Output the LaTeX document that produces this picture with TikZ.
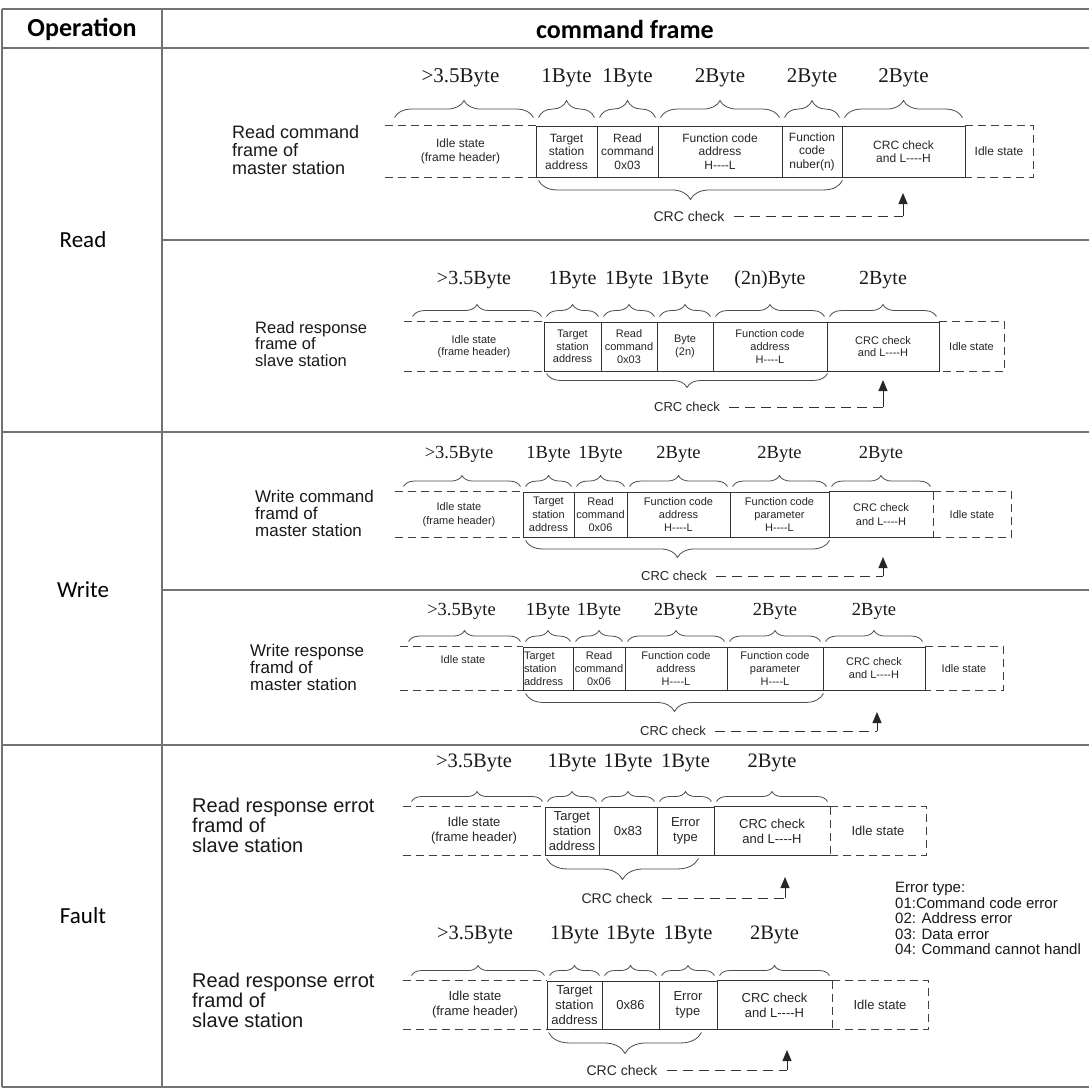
\documentclass[tikz,border=0pt]{standalone}
\usepackage{fontspec}
\setmainfont{Liberation Sans}
\newfontfamily\tnr{Liberation Serif}
\newfontfamily\clb{Carlito}
\usetikzlibrary{decorations.pathreplacing,arrows.meta,calc}
\newcommand\fsz[2]{\fontsize{#1}{#2}\selectfont}
\newcommand\HL{H-{}-{}-{}-L}
\newcommand\LH{L-{}-{}-{}-H}
\newcommand\cel[7][]{\node[cell,#1,minimum width={#4pt-#3pt},minimum height={#6pt-#5pt}] (#2) at ({(#3+#4)/2},{(#5+#6)/2}) {#7};}
\begin{document}
\begin{tikzpicture}[x=1pt,y=-1pt,
 tline/.style={draw=black!55, line width=1.8pt},
 cell/.style={draw=black!80, line width=0.9pt, inner sep=0pt, align=center, text=black!85},
 sol/.style={draw=black!80, line width=0.9pt},
 dsh/.style={draw=black!75, line width=1pt, dash pattern=on 8pt off 5pt},
 cdsh/.style={draw=black!80, line width=1pt, dash pattern=on 10pt off 6pt},
 brc/.style={draw=black!70, line width=0.8pt, decorate, decoration={brace, amplitude=#1}},
 byte/.style={font=\tnr\fsz{#1}{#1}, text=black!90, inner sep=0pt},
 lbl/.style={font=\fsz{#1}{#1}, align=left, anchor=west, inner sep=0pt, text=black!90},
 arr/.style={draw=black!85, line width=1pt, -{Triangle[width=9pt,length=11pt]}},
 crct/.style={font=\fsz{#1}{#1}, inner sep=1pt, text=black!85},
 hdr/.style={font=\clb\bfseries\fsz{26}{26}},
 sec/.style={font=\clb\fsz{23}{23}},
]
\fill[white] (0,0) rectangle (1089,1088);
\useasboundingbox (0,0) rectangle (1089,1088);
% table
\draw[tline] (2,9) -- (1089,9);
\draw[tline] (2,48) -- (1089,48);
\draw[tline] (2,432) -- (1089,432);
\draw[tline] (2,745) -- (1089,745);
\draw[tline] (2,1087) -- (1089,1087);
\draw[tline] (2,9) -- (2,1087);
\draw[tline] (162,9) -- (162,1087);
\draw[tline] (162,240) -- (1089,240);
\draw[tline] (162,590) -- (1089,590);
\node[hdr] (op) at (82,29) {Operation};
\node[hdr] (cf) at (625,29) {command frame};
\node[sec] (sr) at (83,240) {Read};
\node[sec] (sw) at (83,590) {Write};
\node[sec] (sf) at (83,916) {Fault};

% ---------- frame 1
\begin{scope}[cell/.append style={font=\fsz{12}{13.5}}]
\node[lbl=18] (L1) at (232,150) {Read command\\frame of\\master station};
\cel[draw=none]{h1}{385}{536}{126}{177}{Idle state\\(frame header)}
\draw[dsh] (h1.north west) -- (h1.north east);
\draw[dsh] (h1.south west) -- (h1.south east);
\cel{a1}{536}{597}{126}{177}{Target\\station\\address}
\cel{b1}{597}{658}{126}{177}{Read\\command\\0x03}
\cel{c1}{658}{782}{126}{177}{Function code\\address\\\HL}
\cel{d1}{782}{842}{126}{177}{Function\\code\\nuber(n)}
\cel{e1}{842}{965}{126}{177}{CRC check\\and \LH}
\cel[draw=none]{i1}{965}{1033}{126}{177}{Idle state}
\draw[dsh] (i1.north west) -- (i1.north east) -- (i1.south east) -- (i1.south west);
\foreach \n in {a1,b1,c1,d1,e1}{\draw[brc=17pt] ([xshift=3pt,yshift=8pt]\n.north west) -- ([xshift=-3pt,yshift=8pt]\n.north east);}
\draw[brc=17pt] ([xshift=10pt,yshift=8pt]h1.north west) -- ([xshift=-3pt,yshift=8pt]h1.north east);
\node[byte=21] (y1h) at ([yshift=48pt]h1.north) {>3.5Byte};
\node[byte=21] (y1a) at ([yshift=48pt]a1.north) {1Byte};
\node[byte=21] (y1b) at ([yshift=48pt]b1.north) {1Byte};
\node[byte=21] (y1c) at ([yshift=48pt]c1.north) {2Byte};
\node[byte=21] (y1d) at ([yshift=48pt]d1.north) {2Byte};
\node[byte=21] (y1e) at ([yshift=48pt]e1.north) {2Byte};
\draw[brc=19pt] ([yshift=-3pt]d1.south east) -- ([xshift=3pt,yshift=-3pt]a1.south west);
\node[crct=14] (k1) at (689,216) {CRC check};
\coordinate (t1) at (903,193);
\draw[cdsh] ([xshift=8pt]k1.east) -- (k1.east -| t1) coordinate (m1);
\draw[arr] (m1) -- (t1);
\end{scope}

% ---------- frame 2
\begin{scope}[cell/.append style={font=\fsz{11}{12.7}}]
\node[lbl=16.5] (L2) at (255,344) {Read response\\frame of\\slave station};
\cel[draw=none]{h2}{404}{544}{322}{371}{Idle state\\(frame header)}
\draw[dsh] (h2.north west) -- (h2.north east);
\draw[dsh] (h2.south west) -- (h2.south east);
\cel{a2}{544}{601}{322}{371}{Target\\station\\address}
\cel{b2}{601}{657}{322}{371}{Read\\command\\0x03}
\cel{c2}{657}{713}{322}{371}{Byte\\(2n)}
\cel{d2}{713}{827}{322}{371}{Function code\\address\\\HL}
\cel{e2}{827}{939}{322}{371}{CRC check\\and \LH}
\cel[draw=none]{i2}{939}{1004}{322}{371}{Idle state}
\draw[dsh] (i2.north west) -- (i2.north east) -- (i2.south east) -- (i2.south west);
\foreach \n in {a2,b2,c2,d2,e2}{\draw[brc=12pt] ([xshift=3pt,yshift=5pt]\n.north west) -- ([xshift=-3pt,yshift=5pt]\n.north east);}
\draw[brc=12pt] ([xshift=9pt,yshift=5pt]h2.north west) -- ([xshift=-3pt,yshift=5pt]h2.north east);
\node[byte=20] (y2h) at ([yshift=42pt]h2.north) {>3.5Byte};
\node[byte=20] (y2a) at ([yshift=42pt]a2.north) {1Byte};
\node[byte=20] (y2b) at ([yshift=42pt]b2.north) {1Byte};
\node[byte=20] (y2c) at ([yshift=42pt]c2.north) {1Byte};
\node[byte=20] (y2d) at ([yshift=42pt]d2.north) {(2n)Byte};
\node[byte=20] (y2e) at ([yshift=42pt]e2.north) {2Byte};
\draw[brc=14pt] ([yshift=-2pt]d2.south east) -- ([xshift=3pt,yshift=-2pt]a2.south west);
\node[crct=13] (k2) at (687,407) {CRC check};
\coordinate (t2) at (883,380);
\draw[cdsh] ([xshift=8pt]k2.east) -- (k2.east -| t2) coordinate (m2);
\draw[arr] (m2) -- (t2);
\end{scope}

% ---------- frame 3
\begin{scope}[cell/.append style={font=\fsz{11}{13.3}}]
\node[lbl=17] (L3) at (255,513) {Write command\\framd of\\master station};
\cel[draw=none]{h3}{395}{523}{492}{537}{Idle state\\(frame header)}
\draw[dsh] (h3.north west) -- (h3.north east);
\draw[dsh] (h3.south west) -- (h3.south east);
\cel{a3}{523}{574}{492}{537}{Target\\station\\address}
\cel{b3}{574}{627}{492}{537}{Read\\command\\0x06}
\cel{c3}{627}{730}{492}{537}{Function code\\address\\\HL}
\cel{d3}{730}{829}{492}{537}{Function code\\parameter\\\HL}
\cel[draw=none]{e3}{829}{933}{492}{537}{CRC check\\and \LH}
\draw[sol] (e3.north west) -- (e3.north east);
\draw[sol] (e3.south west) -- (e3.south east);
\draw[dsh] (e3.north east) -- (e3.south east);
\cel[draw=none]{i3}{933}{1011}{492}{537}{Idle state}
\draw[dsh] (i3.north west) -- (i3.north east) -- (i3.south east) -- (i3.south west);
\foreach \n in {a3,b3,c3,d3,e3}{\draw[brc=11pt] ([xshift=3pt,yshift=5pt]\n.north west) -- ([xshift=-3pt,yshift=5pt]\n.north east);}
\draw[brc=11pt] ([xshift=9pt,yshift=5pt]h3.north west) -- ([xshift=-3pt,yshift=5pt]h3.north east);
\node[byte=18.5] (y3h) at ([yshift=37pt]h3.north) {>3.5Byte};
\node[byte=18.5] (y3a) at ([yshift=37pt]a3.north) {1Byte};
\node[byte=18.5] (y3b) at ([yshift=37pt]b3.north) {1Byte};
\node[byte=18.5] (y3c) at ([yshift=37pt]c3.north) {2Byte};
\node[byte=18.5] (y3d) at ([yshift=37pt]d3.north) {2Byte};
\node[byte=18.5] (y3e) at ([yshift=37pt]e3.north) {2Byte};
\draw[brc=17pt] ([yshift=-3pt]d3.south east) -- ([xshift=3pt,yshift=-3pt]a3.south west);
\node[crct=13] (k3) at (674,576) {CRC check};
\coordinate (t3) at (883,557);
\draw[cdsh] ([xshift=8pt]k3.east) -- (k3.east -| t3) coordinate (m3);
\draw[arr] (m3) -- (t3);
\end{scope}

% ---------- frame 4
\begin{scope}[cell/.append style={font=\fsz{11}{13}}]
\node[lbl=17] (L4) at (250,667) {Write response\\framd of\\master station};
\cel[draw=none]{h4}{400}{523}{647}{690}{}
\node[font=\fsz{11}{13}, text=black!85] (h4t) at (463,660) {Idle state};
\draw[dsh] (h4.north west) -- (h4.north east);
\draw[dsh] (h4.south west) -- (h4.south east);
\cel[text width=48pt, align=left]{a4}{523}{573}{647}{690}{Target\\station\\address}
\cel{b4}{573}{625}{647}{690}{Read\\command\\0x06}
\cel{c4}{625}{727}{647}{690}{Function code\\address\\\HL}
\cel{d4}{727}{823}{647}{690}{Function code\\parameter\\\HL}
\cel{e4}{823}{925}{647}{690}{CRC check\\and \LH}
\cel[draw=none]{i4}{925}{1003}{647}{690}{Idle state}
\draw[dsh] (i4.north west) -- (i4.north east) -- (i4.south east) -- (i4.south west);
\foreach \n in {a4,b4,c4,d4,e4}{\draw[brc=11pt] ([xshift=3pt,yshift=5pt]\n.north west) -- ([xshift=-3pt,yshift=5pt]\n.north east);}
\draw[brc=11pt] ([xshift=9pt,yshift=5pt]h4.north west) -- ([xshift=-3pt,yshift=5pt]h4.north east);
\node[byte=18.5] (y4h) at ([yshift=35pt]h4.north) {>3.5Byte};
\node[byte=18.5] (y4a) at ([yshift=35pt]a4.north) {1Byte};
\node[byte=18.5] (y4b) at ([yshift=35pt]b4.north) {1Byte};
\node[byte=18.5] (y4c) at ([yshift=35pt]c4.north) {2Byte};
\node[byte=18.5] (y4d) at ([yshift=35pt]d4.north) {2Byte};
\node[byte=18.5] (y4e) at ([yshift=35pt]e4.north) {2Byte};
\draw[brc=18pt] ([yshift=-3pt]d4.south east) -- ([xshift=3pt,yshift=-3pt]a4.south west);
\node[crct=13] (k4) at (673,731) {CRC check};
\coordinate (t4) at (877,712);
\draw[cdsh] ([xshift=8pt]k4.east) -- (k4.east -| t4) coordinate (m4);
\draw[arr] (m4) -- (t4);
\end{scope}

% ---------- frame 5
\begin{scope}[cell/.append style={font=\fsz{13}{15}}]
\node[lbl=20] (L5) at (192,825) {Read response errot\\framd of\\slave station};
\cel[draw=none]{h5}{403}{545}{807}{855}{Idle state\\(frame header)}
\draw[dsh] (h5.north west) -- (h5.north east);
\draw[dsh] (h5.south west) -- (h5.south east);
\cel{a5}{545}{599}{807}{855}{Target\\station\\address}
\cel{b5}{599}{657}{807}{855}{0x83}
\cel{c5}{657}{714}{807}{855}{Error\\type}
\cel[draw=none]{e5}{714}{830}{807}{855}{CRC check\\and \LH}
\draw[sol] (e5.north west) -- (e5.north east);
\draw[sol] (e5.south west) -- (e5.south east);
\draw[dsh] (e5.north east) -- (e5.south east);
\cel[draw=none]{i5}{830}{926}{807}{855}{Idle state}
\draw[dsh] (i5.north west) -- (i5.north east) -- (i5.south east) -- (i5.south west);
\foreach \n in {a5,b5,c5,e5}{\draw[brc=10pt] ([xshift=3pt,yshift=5pt]\n.north west) -- ([xshift=-3pt,yshift=5pt]\n.north east);}
\draw[brc=10pt] ([xshift=9pt,yshift=5pt]h5.north west) -- ([xshift=-3pt,yshift=5pt]h5.north east);
\node[byte=20.5] (y5h) at ([yshift=44pt]h5.north) {>3.5Byte};
\node[byte=20.5] (y5a) at ([yshift=44pt]a5.north) {1Byte};
\node[byte=20.5] (y5b) at ([yshift=44pt]b5.north) {1Byte};
\node[byte=20.5] (y5c) at ([yshift=44pt]c5.north) {1Byte};
\node[byte=20.5] (y5e) at ([yshift=44pt]e5.north) {2Byte};
\draw[brc=21pt] ([xshift=-16pt,yshift=-3pt]c5.south east) -- ([xshift=2pt,yshift=-3pt]a5.south west);
\node[crct=14] (k5) at (617,898) {CRC check};
\coordinate (t5) at (785,877);
\draw[cdsh] ([xshift=8pt]k5.east) -- (k5.east -| t5) coordinate (m5);
\draw[arr] (m5) -- (t5);
\end{scope}

\node[font=\fsz{15}{15.6}, align=left, anchor=north west, inner sep=0pt, text=black!90] (et) at (895,882)
 {Error type:\\01:Command code error\\02: Address error\\03: Data error\\04: Command cannot handl};

% ---------- frame 6
\begin{scope}[cell/.append style={font=\fsz{13}{15}}]
\node[lbl=20] (L6) at (192,1000) {Read response errot\\framd of\\slave station};
\cel[draw=none]{h6}{403}{547}{981}{1029}{Idle state\\(frame header)}
\draw[dsh] (h6.north west) -- (h6.north east);
\draw[dsh] (h6.south west) -- (h6.south east);
\cel{a6}{547}{602}{981}{1029}{Target\\station\\address}
\cel{b6}{602}{659}{981}{1029}{0x86}
\cel{c6}{659}{717}{981}{1029}{Error\\type}
\cel[draw=none]{e6}{717}{832}{981}{1029}{CRC check\\and \LH}
\draw[sol] (e6.north west) -- (e6.north east);
\draw[sol] (e6.south west) -- (e6.south east);
\draw[dsh] (e6.north east) -- (e6.south east);
\cel[draw=none]{i6}{832}{928}{981}{1029}{Idle state}
\draw[dsh] (i6.north west) -- (i6.north east) -- (i6.south east) -- (i6.south west);
\foreach \n in {a6,b6,c6,e6}{\draw[brc=10pt] ([xshift=3pt,yshift=5pt]\n.north west) -- ([xshift=-3pt,yshift=5pt]\n.north east);}
\draw[brc=10pt] ([xshift=9pt,yshift=5pt]h6.north west) -- ([xshift=-3pt,yshift=5pt]h6.north east);
\node[byte=20.5] (y6h) at ([yshift=46pt]h6.north) {>3.5Byte};
\node[byte=20.5] (y6a) at ([yshift=46pt]a6.north) {1Byte};
\node[byte=20.5] (y6b) at ([yshift=46pt]b6.north) {1Byte};
\node[byte=20.5] (y6c) at ([yshift=46pt]c6.north) {1Byte};
\node[byte=20.5] (y6e) at ([yshift=46pt]e6.north) {2Byte};
\draw[brc=21pt] ([xshift=-16pt,yshift=-3pt]c6.south east) -- ([xshift=2pt,yshift=-3pt]a6.south west);
\node[crct=14] (k6) at (622,1070) {CRC check};
\coordinate (t6) at (787,1050);
\draw[cdsh] ([xshift=8pt]k6.east) -- (k6.east -| t6) coordinate (m6);
\draw[arr] (m6) -- (t6);
\end{scope}
\end{tikzpicture}
\end{document}
